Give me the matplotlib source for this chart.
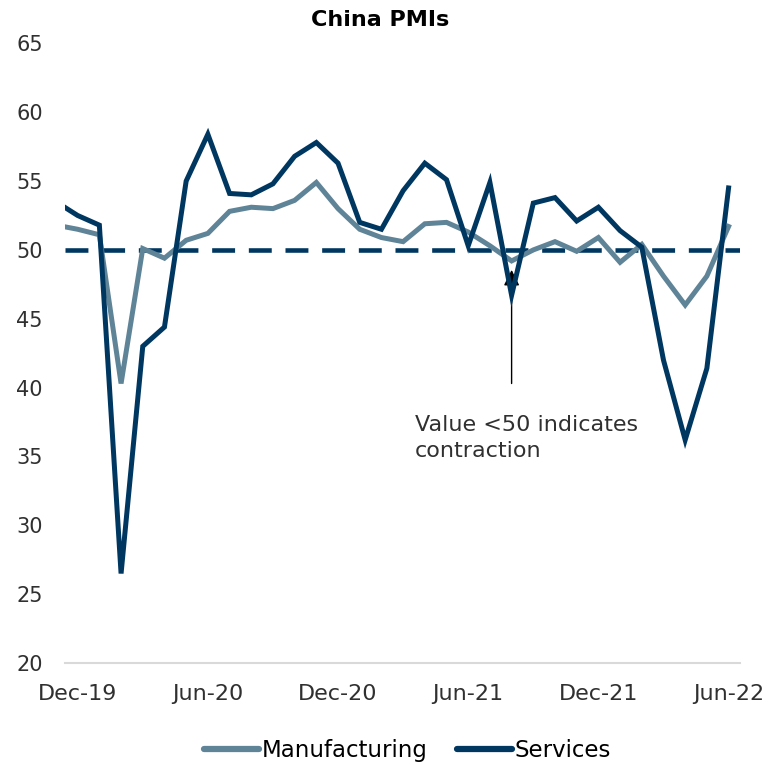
import matplotlib.pyplot as plt
from matplotlib.lines import Line2D

# Monthly Caixin PMI readings, Nov-19 .. Jun-22
months = ["Nov-19", "Dec-19", "Jan-20", "Feb-20", "Mar-20", "Apr-20", "May-20", "Jun-20",
          "Jul-20", "Aug-20", "Sep-20", "Oct-20", "Nov-20", "Dec-20", "Jan-21", "Feb-21",
          "Mar-21", "Apr-21", "May-21", "Jun-21", "Jul-21", "Aug-21", "Sep-21", "Oct-21",
          "Nov-21", "Dec-21", "Jan-22", "Feb-22", "Mar-22", "Apr-22", "May-22", "Jun-22"]
manufacturing = [51.8, 51.5, 51.1, 40.3, 50.1, 49.4, 50.7, 51.2, 52.8, 53.1, 53.0, 53.6,
                 54.9, 53.0, 51.5, 50.9, 50.6, 51.9, 52.0, 51.3, 50.3, 49.2, 50.0, 50.6,
                 49.9, 50.9, 49.1, 50.4, 48.1, 46.0, 48.1, 51.7]
services = [53.5, 52.5, 51.8, 26.5, 43.0, 44.4, 55.0, 58.4, 54.1, 54.0, 54.8, 56.8,
            57.8, 56.3, 52.0, 51.5, 54.3, 56.3, 55.1, 50.3, 54.9, 46.7, 53.4, 53.8,
            52.1, 53.1, 51.4, 50.2, 42.0, 36.2, 41.4, 54.5]
tick_labels = ["Dec-19", "Jun-20", "Dec-20", "Jun-21", "Dec-21", "Jun-22"]
threshold = 50

C_MFG = "#5F8397"
C_SRV = "#003761"
C_TXT = "#303030"
FONT = "DejaVu Sans"

x = list(range(len(months)))

fig = plt.figure(figsize=(7.82, 7.65), dpi=100)
ax = fig.add_axes([0.0831, 0.1333, 0.863, 0.810])

ax.plot(x, manufacturing, color=C_MFG, lw=3.6, solid_joinstyle="miter", zorder=3)
ax.plot(x, services, color=C_SRV, lw=3.6, solid_joinstyle="miter", zorder=4)
ax.axhline(threshold, color=C_SRV, lw=3.3, ls=(0, (5.0, 3.0)), zorder=2)

ax.set_xlim(0.415, 31.52)
ax.set_ylim(20, 65)
ax.set_yticks(range(20, 66, 5))
ax.set_xticks([months.index(m) for m in tick_labels])
ax.set_xticklabels(tick_labels)

for side in ["top", "right", "left"]:
    ax.spines[side].set_visible(False)
ax.spines["bottom"].set_color("#D9D9D9")
ax.spines["bottom"].set_linewidth(1.5)
ax.tick_params(length=0, colors=C_TXT)
ax.tick_params(axis="x", labelsize=16, pad=15)
ax.tick_params(axis="y", labelsize=15, pad=16)
for lab in ax.get_xticklabels() + ax.get_yticklabels():
    lab.set_fontfamily(FONT)

fig.text(0.486, 0.974, "China PMIs", fontsize=16, fontweight="bold",
         family=FONT, ha="center", va="center")

# Contraction annotation pointing at the Aug-21 services dip
i_dip = months.index("Aug-21")
ax.annotate("", xy=(i_dip, 48.55), xytext=(i_dip, 40.3),
            arrowprops=dict(arrowstyle="-|>", color="black", lw=1.0,
                            mutation_scale=24, shrinkA=0, shrinkB=0))
ax.text(i_dip - 4.46, 38.0, "Value <50 indicates\ncontraction", fontsize=16,
        family=FONT, color=C_TXT, va="top", ha="left", linespacing=1.35)

handles = [Line2D([], [], color=C_MFG, lw=4.5, solid_capstyle="round"),
           Line2D([], [], color=C_SRV, lw=4.5, solid_capstyle="round")]
fig.legend(handles, ["Manufacturing", "Services"], loc="center",
           bbox_to_anchor=(0.521, 0.019), ncol=2, frameon=False,
           prop={"family": FONT, "size": 16.5}, handlelength=2.4,
           handletextpad=0.1, columnspacing=1.3)

fig.savefig("out.png", dpi=100)
